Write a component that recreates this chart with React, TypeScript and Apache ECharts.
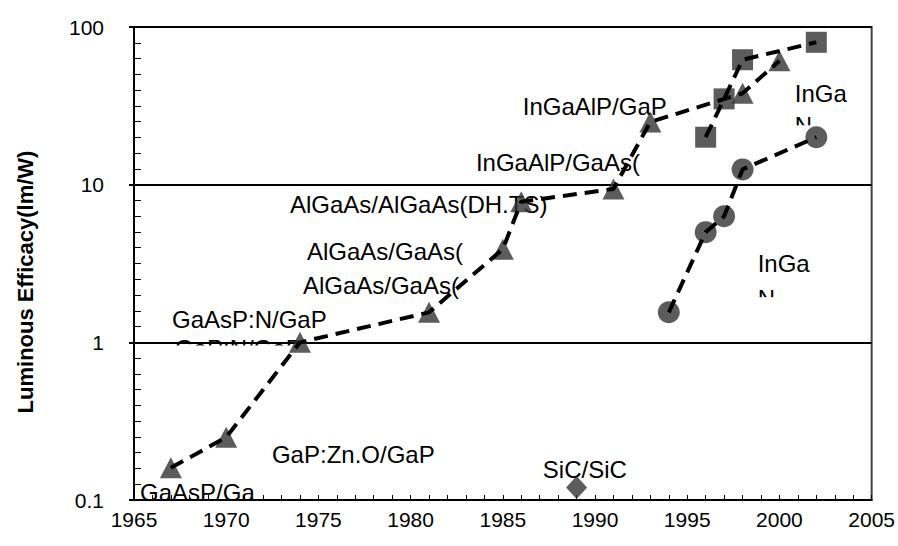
import React, { useEffect, useRef } from "react";
import * as echarts from "echarts";

// ---- data ----
const triangleYears = [1967, 1970, 1974, 1981, 1985, 1986, 1991, 1993, 1998, 2000];
const triangleValues = [0.16, 0.25, 1.0, 1.55, 3.9, 7.8, 9.4, 25, 38, 61];

const squareYears = [1996, 1997, 1998, 2002];
const squareValues = [20, 35, 62, 80];

const circleYears = [1994, 1996, 1997, 1998, 2002];
const circleValues = [1.55, 5.0, 6.3, 12.5, 20];

const diamondYears = [1989];
const diamondValues = [0.12];

const xMin = 1965;
const xMax = 2005;
const xInterval = 5;
const yTickLabels = ["0.1", "1", "10", "100"];
const yTitle = "Luminous Efficacy(lm/W)";

// annotation texts with their anchor (left edge, vertical middle) in data coordinates
const labelTexts = [
  "GaAsP/Ga",
  "GaAsP:N/GaP",
  "GaP:N/GaP",
  "GaP:Zn.O/GaP",
  "SiC/SiC",
  "AlGaAs/AlGaAs(DH.TS)",
  "AlGaAs/GaAs(",
  "AlGaAs/GaAs(",
  "InGaAlP/GaAs(",
  "InGaAlP/GaP",
  "InGa",
  "N",
  "InGa",
  "N",
];
const labelYears = [
  1965.33, 1967.06, 1967.22, 1972.48, 1987.17, 1973.46, 1974.38, 1974.16,
  1983.54, 1986.08, 2000.83, 2000.83, 1998.82, 1998.82,
];
const labelValues = [
  0.1108, 1.405, 0.92, 0.1957, 0.155, 7.54, 3.79, 2.28, 13.9, 31.5, 38.1, 23.8,
  3.14, 1.905,
];

// the reference's text boxes clip these labels; white covers (style only)
const labelCuts = [
  { index: 2, from: -2.5, width: 170 },
  { index: 11, from: 0, width: 26 },
  { index: 13, from: -1, width: 26 },
];

const FONT = "'Liberation Sans', Arial, sans-serif";

export default function App() {
  const ref = useRef<HTMLDivElement>(null);

  useEffect(() => {
    document.body.style.margin = "0";
    const el = ref.current!;
    const chart = echarts.init(el, null, { renderer: "svg" });
    const pts = (xs: number[], ys: number[]) => xs.map((x, i) => [x, ys[i]]);
    const dashed = { color: "#000", width: 4, type: [14, 8] as number[] };

    const option: any = {
      animation: false,
      backgroundColor: "#fff",
      grid: {
        left: 134,
        right: 26,
        top: 27,
        bottom: 46,
        show: true,
        borderColor: "#444",
        borderWidth: 2,
        backgroundColor: "transparent",
      },
      xAxis: {
        type: "value",
        min: xMin,
        max: xMax,
        interval: xInterval,
        axisLine: { show: true, onZero: false, lineStyle: { color: "#000", width: 2 } },
        axisTick: { show: true, inside: true, length: 5, lineStyle: { color: "#000", width: 1 } },
        minorTick: { show: true, splitNumber: 5, length: 5, lineStyle: { color: "#000", width: 1 } },
        axisLabel: {
          color: "#000",
          fontSize: 21,
          fontFamily: FONT,
          margin: 9,
          formatter: (v: number) => String(v),
        },
        splitLine: { show: false },
      },
      yAxis: [
        {
          type: "log",
          logBase: 10,
          min: 0.1,
          max: 100,
          position: "left",
          axisLine: { show: true, lineStyle: { color: "#000", width: 2 } },
          axisTick: { show: true, inside: false, length: 5, lineStyle: { color: "#000", width: 2 } },
          axisLabel: {
            color: "#000",
            fontSize: 21,
            fontFamily: FONT,
            margin: 30,
            formatter: (v: number) => yTickLabels[Math.round(Math.log10(v)) + 1],
          },
          splitLine: { show: true, lineStyle: { color: "#000", width: 2 } },
        },
        {
          type: "value",
          min: -1,
          max: 2,
          interval: 1,
          position: "left",
          axisLine: { show: false },
          axisLabel: { show: false },
          axisTick: { show: false, inside: true },
          minorTick: { show: true, splitNumber: 10, length: 7, lineStyle: { color: "#000", width: 1 } },
          splitLine: { show: false },
        },
      ],
      series: [
        { type: "scatter", data: pts(triangleYears, triangleValues), symbol: "triangle", symbolSize: [22, 21], itemStyle: { color: "#333" }, z: 2, silent: true },
        { type: "scatter", data: pts(squareYears, squareValues), symbol: "rect", symbolSize: 21, itemStyle: { color: "#333" }, z: 2, silent: true },
        { type: "scatter", data: pts(circleYears, circleValues), symbol: "circle", symbolSize: 22, itemStyle: { color: "#333" }, z: 2, silent: true },
        { type: "scatter", data: pts(diamondYears, diamondValues), symbol: "diamond", symbolSize: [21, 23], itemStyle: { color: "#333" }, z: 2, silent: true },
        { type: "line", data: pts(triangleYears, triangleValues), symbol: "none", showSymbol: false, lineStyle: dashed, z: 3, silent: true },
        { type: "line", data: pts(squareYears, squareValues), symbol: "none", showSymbol: false, lineStyle: dashed, z: 3, silent: true },
        { type: "line", data: pts(circleYears, circleValues), symbol: "none", showSymbol: false, lineStyle: dashed, z: 3, silent: true },
      ],
    };

    chart.setOption(option);

    const toPx = (x: number, y: number) =>
      chart.convertToPixel({ xAxisIndex: 0, yAxisIndex: 0 }, [x, y]) as number[];

    const texts = labelTexts.map((t, i) => {
      const p = toPx(labelYears[i], labelValues[i]);
      return {
        type: "text",
        x: p[0],
        y: p[1],
        z: 1,
        silent: true,
        style: {
          text: t,
          fill: "#000",
          fontSize: 24,
          fontFamily: FONT,
          align: "left",
          verticalAlign: "middle",
        },
      };
    });

    const covers = labelCuts.map((c) => {
      const p = toPx(labelYears[c.index], labelValues[c.index]);
      return {
        type: "rect",
        z: 1.5,
        silent: true,
        shape: { x: p[0] - 2, y: p[1] + c.from, width: c.width, height: 22 },
        style: { fill: "#fff" },
      };
    });

    chart.setOption({
      graphic: [
        {
          type: "text",
          x: 25,
          y: 282,
          rotation: Math.PI / 2,
          z: 5,
          silent: true,
          style: {
            text: yTitle,
            fill: "#000",
            fontSize: 22,
            fontWeight: "bold",
            fontFamily: FONT,
            align: "center",
            verticalAlign: "middle",
          },
        },
        ...texts,
        ...covers,
      ],
    });

    return () => chart.dispose();
  }, []);

  return <div ref={ref} style={{ width: 898, height: 546 }} />;
}
